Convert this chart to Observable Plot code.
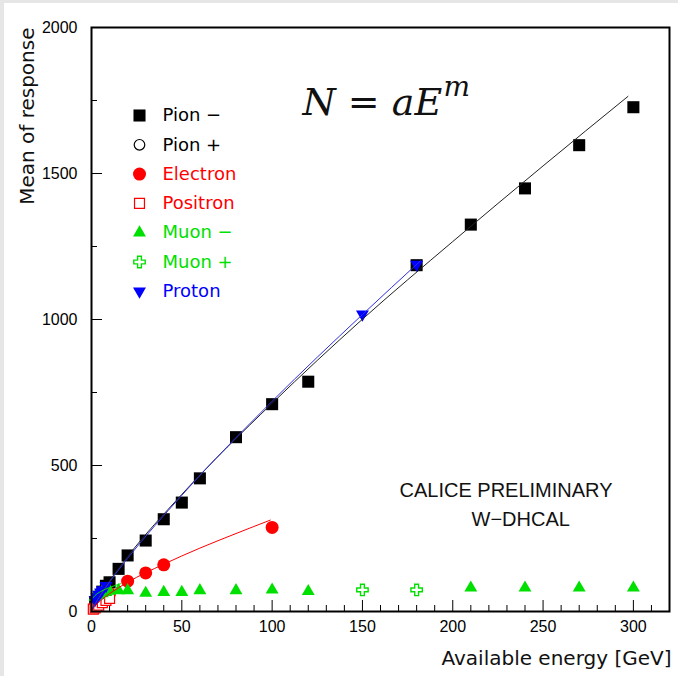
<!DOCTYPE html>
<html><head><meta charset="utf-8">
<script src="https://cdn.jsdelivr.net/npm/d3@7"></script>
<script src="https://cdn.jsdelivr.net/npm/@observablehq/plot@0.6"></script>
<style>
body{margin:0;background:#fff;}
#chart{width:678px;height:676px;position:relative;}
#chart::after{content:"";position:absolute;left:0;top:0;width:678px;height:676px;
  box-shadow: inset 4px 3px 0 #e6e6e6;pointer-events:none;}
</style></head><body><div id="chart"></div>
<script>
// ---- data ----
const pionMinusE = [2, 4, 6, 8, 10, 15, 20, 30, 40, 50, 60, 80, 100, 120, 180, 210, 240, 270, 300];
const pionMinusN = [30, 50, 68, 88, 100, 146, 192, 243, 316, 373, 456, 597, 710, 787, 1186, 1325, 1449, 1597, 1727];
const pionPlusE = [4, 6, 8];
const pionPlusN = [50, 66, 84];
const electronE = [5, 10, 20, 30, 40, 100];
const electronN = [38, 62, 104, 132, 160, 288];
const positronE = [1, 2, 3, 4, 6, 8, 10];
const positronN = [8, 12, 17, 22, 30, 38, 45];
const muonMinusE = [2, 4, 6, 8, 10, 15, 20, 30, 40, 50, 60, 80, 100, 120, 210, 240, 270, 300];
const muonMinusN = [50, 56, 62, 66, 70, 72, 72, 63, 66, 66, 72, 72, 74, 69, 81, 81, 81, 81];
const muonPlusE = [150, 180];
const muonPlusN = [74, 74];
const protonE = [2, 3, 4, 5, 6, 8, 180, 150];
const protonN = [40, 50, 58, 66, 74, 88, 1188, 1018];

// fitted curves N = aE^m
const pionFitE = [0.5, 1, 2, 5, 10, 20, 50, 100, 150, 200, 250, 297];
const pionFitN = [9, 16, 28, 59, 105, 188, 401, 713, 1001, 1267, 1526, 1764];
const protonFitE = [0.5, 1, 2, 5, 10, 20, 50, 100, 150, 182];
const protonFitN = [8, 14, 26, 56, 101, 182, 398, 720, 1017, 1200];
const electronFitE = [0.5, 1, 2, 5, 10, 20, 40, 60, 80, 99];
const electronFitN = [7, 12, 20, 37, 61, 100, 162, 217, 267, 313];
const muonFitE = [1, 2, 5, 10, 16];
const muonFitN = [48, 55, 68, 82, 95];

const xMajorTicks = [0, 50, 100, 150, 200, 250, 300];
const xMinorTicks = [10, 20, 30, 40, 60, 70, 80, 90, 110, 120, 130, 140, 160, 170, 180, 190, 210, 220, 230, 240, 260, 270, 280, 290, 310, 320];
const yMajorTicks = [0, 500, 1000, 1500, 2000];
const yMinorTicks = [250, 750, 1250, 1750];

const legendLabels = ["Pion \u2212", "Pion +", "Electron", "Positron", "Muon \u2212", "Muon +", "Proton"];

// ---- styles ----
const BLACK = "#000", RED = "#f00", GREEN = "#00e000", BLUE = "#00f";
const styles = [
  {symbol: "square", r: 6.8, fill: BLACK, stroke: "none", sw: 0, rot: 0, text: BLACK},
  {symbol: "circle", r: 5.3, fill: "white", stroke: BLACK, sw: 1.2, rot: 0, text: BLACK},
  {symbol: "circle", r: 6.5, fill: RED, stroke: "none", sw: 0, rot: 0, text: RED},
  {symbol: "square", r: 5.6, fill: "white", stroke: RED, sw: 1.2, rot: 0, text: RED},
  {symbol: "triangle", r: 4.8, fill: GREEN, stroke: "none", sw: 0, rot: 0, text: GREEN},
  {symbol: "cross", r: 4.8, fill: "white", stroke: GREEN, sw: 1.4, rot: 0, text: GREEN},
  {symbol: "triangle", r: 4.8, fill: BLUE, stroke: "none", sw: 0, rot: 180, text: BLUE}
];
const seriesE = [pionMinusE, pionPlusE, electronE, positronE, muonMinusE, muonPlusE, protonE];
const seriesN = [pionMinusN, pionPlusN, electronN, positronN, muonMinusN, muonPlusN, protonN];

const W = 678, H = 676, mL = 91, mR = 9, mT = 27, mB = 65;
const innerW = W - mL - mR, innerH = H - mT - mB;

const dotMarks = seriesE.map((E, k) => {
  const s = styles[k];
  const data = E.map((e, i) => ({e, n: seriesN[k][i]}));
  return Plot.dot(data, {x: "e", y: "n", symbol: s.symbol, r: s.r, fill: s.fill,
    stroke: s.stroke, strokeWidth: s.sw, rotate: s.rot});
});

function fitLine(E, N, color) {
  return Plot.line(E.map((e, i) => ({e, n: N[i]})), {x: "e", y: "n", stroke: color, strokeWidth: 1, curve: "monotone-x"});
}

const legendMarks = [];
legendLabels.forEach((lab, k) => {
  const s = styles[k];
  const dy = 115 + 29.3 * k - mT;
  legendMarks.push(Plot.dot([0], {frameAnchor: "top-left", dx: 48, dy, symbol: s.symbol, r: s.r,
    fill: s.fill, stroke: s.stroke, strokeWidth: s.sw, rotate: s.rot}));
  legendMarks.push(Plot.text([lab], {frameAnchor: "top-left", dx: 71, dy, text: d => d,
    textAnchor: "start", lineAnchor: "middle", fill: s.text, fontSize: 18, fontFamily: "DejaVu Sans"}));
});

const chart = Plot.plot({
  width: W, height: H,
  marginLeft: mL, marginRight: mR, marginTop: mT, marginBottom: mB,
  x: {domain: [0, 320]},
  y: {domain: [0, 2000]},
  style: {fontFamily: "Liberation Sans", background: "white", color: "black", overflow: "visible"},
  marks: [
    Plot.tickX(xMajorTicks, {x: d => d, insetTop: innerH - 11, strokeWidth: 1}),
    Plot.tickX(xMinorTicks, {x: d => d, insetTop: innerH - 6, strokeWidth: 1}),
    Plot.tickY(yMajorTicks, {y: d => d, insetRight: innerW - 11, strokeWidth: 1}),
    Plot.tickY(yMinorTicks, {y: d => d, insetRight: innerW - 6, strokeWidth: 1}),
    Plot.axisX({ticks: xMajorTicks, tickSize: 0, tickPadding: 9, fontSize: 16, label: null, tickFormat: d => String(d)}),
    Plot.axisY({ticks: yMajorTicks, tickSize: 0, tickPadding: 14, fontSize: 16, label: null, tickFormat: d => String(d)}),
    ...dotMarks,
    fitLine(pionFitE, pionFitN, "#222"),
    fitLine(electronFitE, electronFitN, RED),
    fitLine(protonFitE, protonFitN, "#3030e0"),
    fitLine(muonFitE, muonFitN, GREEN),
    Plot.frame({stroke: "black", strokeWidth: 2}),
    ...legendMarks,
    Plot.text(["N = aE"], {frameAnchor: "top-left", dx: 211, dy: 87, text: d => d, textAnchor: "start",
      lineAnchor: "bottom", fontFamily: "DejaVu Serif", fontStyle: "italic", fontSize: 38, fill: "#111"}),
    Plot.text(["m"], {frameAnchor: "top-left", dx: 352, dy: 68, text: d => d, textAnchor: "start",
      lineAnchor: "bottom", fontFamily: "DejaVu Serif", fontStyle: "italic", fontSize: 28, fill: "#111"}),
    Plot.text(["CALICE PRELIMINARY"], {frameAnchor: "top-left", dx: 308, dy: 469, text: d => d,
      textAnchor: "start", lineAnchor: "bottom", fontSize: 20, fill: "#111"}),
    Plot.text(["W\u2212DHCAL"], {frameAnchor: "top-left", dx: 380, dy: 498, text: d => d,
      textAnchor: "start", lineAnchor: "bottom", fontSize: 20, fill: "#111"}),
    Plot.text(["Mean of response"], {frameAnchor: "top-left", dx: -58, dy: 0, text: d => d, rotate: -90,
      textAnchor: "end", lineAnchor: "bottom", fontSize: 20, fontFamily: "DejaVu Sans", fill: "#111"}),
    Plot.text(["Available energy [GeV]"], {frameAnchor: "bottom-right", dx: 2, dy: 53, text: d => d,
      textAnchor: "end", lineAnchor: "bottom", fontSize: 20, fontFamily: "DejaVu Sans", fill: "#111"})
  ]
});
document.getElementById("chart").appendChild(chart);
</script></body></html>
